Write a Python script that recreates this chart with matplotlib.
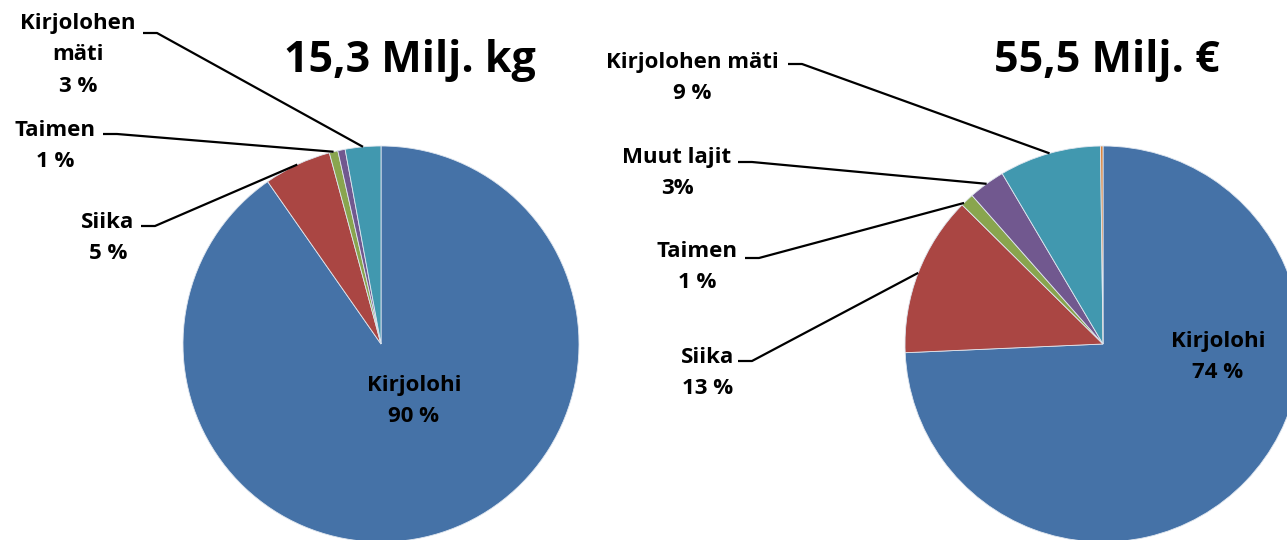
import numpy as np
import matplotlib
matplotlib.use("Agg")
from matplotlib import pyplot as plt

plt.rcParams['font.family'] = ['Open Sans', 'DejaVu Sans']

# data
kg_labels = ['Kirjolohi', 'Siika', 'Taimen', 'Muut lajit', 'Kirjolohen mäti']
kg_values = [90.3, 5.5, 0.7, 0.6, 2.9]
kg_total = '15,3 Milj. kg'

eur_labels = ['Kirjolohi', 'Siika', 'Taimen', 'Muut lajit', 'Kirjolohen mäti', 'Muu']
eur_values = [74.3, 13.1, 1.1, 3.0, 8.3, 0.2]
eur_total = '55,5 Milj. €'

colors = ['#4572A7', '#AA4643', '#89A54E', '#71588F', '#4198AF', '#DB843D']

W, H = 1287, 540
fig = plt.figure(figsize=(W / 100, H / 100), dpi=100)
ax = fig.add_axes([0, 0, 1, 1])

R = 198
c1 = (381, H - 344)
c2 = (1103, H - 344)


def draw_pie(values, center):
    wedges, _ = ax.pie(values, colors=colors[:len(values)], startangle=90,
                       counterclock=False, center=center, radius=R,
                       wedgeprops=dict(linewidth=0.6, edgecolor='#dfe6ef'))
    return wedges


def leader(w, center, tx, ty, frac=0.5):
    # line from label (pixel coords from top) to the wedge edge
    t = np.deg2rad(w.theta1 + frac * (w.theta2 - w.theta1))
    ex = center[0] + R * np.cos(t)
    ey = center[1] + R * np.sin(t)
    ax.plot([tx, tx + 14, ex], [H - ty, H - ty, ey], color='black', lw=1.6,
            solid_capstyle='butt')


w1 = draw_pie(kg_values, c1)
w2 = draw_pie(eur_values, c2)

ax.set_xlim(0, W)
ax.set_ylim(0, H)
ax.set_aspect('equal')
ax.axis('off')

fs = 16
kw = dict(fontsize=fs, fontweight='bold', ha='center', va='center', linespacing=1.68)

# left chart labels
ax.text(78, H - 55, 'Kirjolohen\nmäti\n3 %', **kw)
leader(w1[4], c1, 143, 33)
ax.text(55, H - 146, 'Taimen\n1 %', **kw)
leader(w1[2], c1, 103, 134)
ax.text(108, H - 238, 'Siika\n5 %', **kw)
leader(w1[1], c1, 141, 226)
ax.text(414, H - 401, 'Kirjolohi\n90 %', **kw)
ax.text(410, H - 60, kg_total, fontsize=31, fontweight='bold', ha='center', va='center')

# right chart labels
ax.text(692, H - 78, 'Kirjolohen mäti\n9 %', **kw)
leader(w2[4], c2, 788, 64)
ax.text(677, H - 173, 'Muut lajit\n3%', **kw)
leader(w2[3], c2, 738, 162)
ax.text(697, H - 267, 'Taimen\n1 %', **kw)
leader(w2[2], c2, 745, 258, 0.8)
ax.text(708, H - 373, 'Siika\n13 %', **kw)
leader(w2[1], c2, 738, 361)
ax.text(1218, H - 357, 'Kirjolohi\n74 %', **kw)
ax.text(1107, H - 60, eur_total, fontsize=31, fontweight='bold', ha='center', va='center')

fig.savefig('out.png', dpi=100)
